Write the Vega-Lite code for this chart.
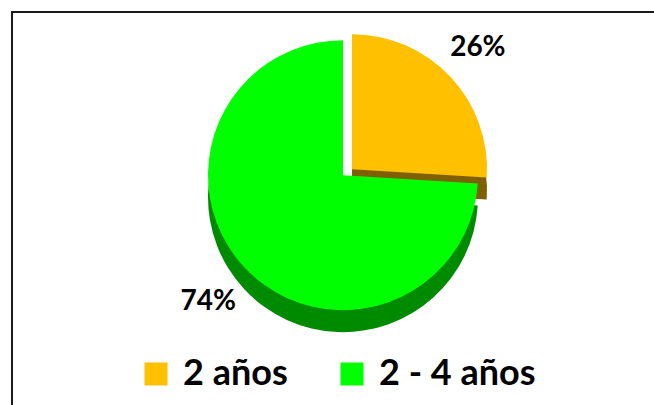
{
  "$schema": "https://vega.github.io/schema/vega-lite/v6.json",
  "width": 644,
  "height": 395,
  "autosize": {"type": "none"},
  "padding": {"left": 12, "top": 12, "right": 0, "bottom": 0},
  "background": "white",
  "view": {"stroke": "#1a1a1a", "strokeWidth": 2, "fill": "white"},
  "config": {
    "font": "Lato"
  },
  "data": {
    "values": [
      {"cat": "2 años", "value": 26, "label": "26%", "o": 1},
      {"cat": "2 - 4 años", "value": 74, "label": "74%", "o": 2}
    ]
  },
  "encoding": {
    "theta": {"field": "value", "type": "quantitative", "stack": true},
    "order": {"field": "o", "type": "quantitative"}
  },
  "layer": [
    {
      "mark": {"type": "arc", "radius": 135, "x": {"expr": "width/2+18"}, "y": {"expr": "height*0.413+16"}},
      "encoding": {
        "fill": {"condition": {"test": "datum.cat == '2 años'", "value": "#7F6000"}, "value": "transparent"}
      }
    },
    {
      "mark": {"type": "arc", "radius": 135, "x": {"expr": "width/2+18"}, "y": {"expr": "height*0.413-6"}},
      "encoding": {
        "fill": {"condition": {"test": "datum.cat == '2 años'", "value": "#FFC000"}, "value": "transparent"}
      }
    },
    {
      "mark": {"type": "arc", "radius": 135, "x": {"expr": "width/2+9"}, "y": {"expr": "height*0.413+22"}},
      "encoding": {
        "fill": {"condition": {"test": "datum.cat == '2 - 4 años'", "value": "#008A00"}, "value": "transparent"}
      }
    },
    {
      "mark": {"type": "arc", "radius": 135, "x": {"expr": "width/2+9"}, "y": {"expr": "height*0.413"}},
      "encoding": {
        "color": {
          "field": "cat",
          "type": "nominal",
          "scale": {"domain": ["2 años", "2 - 4 años"], "range": ["#FFC000", "#00FF00"]},
          "legend": {
            "title": null,
            "orient": "none",
            "direction": "horizontal",
            "legendX": 126,
            "legendY": 344,
            "symbolType": "square",
            "symbolSize": 529,
            "symbolStrokeWidth": 0,
            "labelFontSize": 36,
            "labelFontWeight": "bold",
            "labelColor": "#000000",
            "labelFont": "Lato",
            "labelOffset": 9,
            "columnPadding": 46,
            "labelLimit": 300
          }
        },
        "opacity": {"condition": {"test": "datum.cat == '2 años'", "value": 0}, "value": 1}
      }
    },
    {
      "mark": {"type": "text", "radius": 185, "x": {"expr": "width/2+9"}, "y": {"expr": "height*0.413"}, "fontSize": 28, "fontWeight": "bold", "font": "Lato", "color": "#000000"},
      "encoding": {
        "text": {"field": "label", "type": "nominal"}
      }
    }
  ]
}
